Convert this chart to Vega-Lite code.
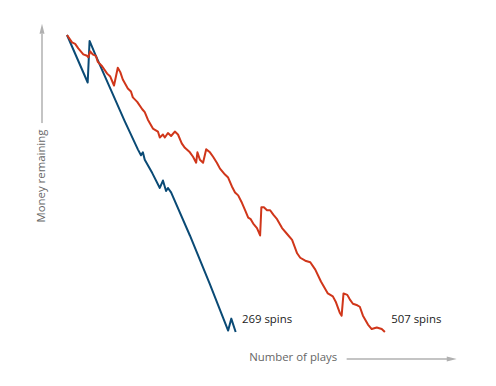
{
  "$schema": "https://vega.github.io/schema/vega-lite/v6.json",
  "width": 496,
  "height": 386,
  "padding": 0,
  "autosize": {"type": "fit", "contains": "padding"},
  "config": {"view": {"stroke": null}, "background": "white"},
  "datasets": {
    "runs": [
      {"series": "269", "spin": 0, "money": 200},
      {"series": "269", "spin": 33, "money": 168},
      {"series": "269", "spin": 36, "money": 196},
      {"series": "269", "spin": 45, "money": 187},
      {"series": "269", "spin": 70, "money": 163},
      {"series": "269", "spin": 92, "money": 142},
      {"series": "269", "spin": 113, "money": 123},
      {"series": "269", "spin": 118, "money": 119},
      {"series": "269", "spin": 121, "money": 121},
      {"series": "269", "spin": 124, "money": 116},
      {"series": "269", "spin": 136, "money": 107},
      {"series": "269", "spin": 148, "money": 97},
      {"series": "269", "spin": 153, "money": 102},
      {"series": "269", "spin": 158, "money": 95},
      {"series": "269", "spin": 161, "money": 97},
      {"series": "269", "spin": 166, "money": 94},
      {"series": "269", "spin": 196, "money": 65},
      {"series": "269", "spin": 228, "money": 32},
      {"series": "269", "spin": 257, "money": 1},
      {"series": "269", "spin": 262, "money": 9},
      {"series": "269", "spin": 269, "money": 0},
      {"series": "507", "spin": 0, "money": 200},
      {"series": "507", "spin": 8, "money": 195},
      {"series": "507", "spin": 13, "money": 194},
      {"series": "507", "spin": 18, "money": 191},
      {"series": "507", "spin": 26, "money": 187},
      {"series": "507", "spin": 32, "money": 186},
      {"series": "507", "spin": 34, "money": 185},
      {"series": "507", "spin": 37, "money": 189},
      {"series": "507", "spin": 41, "money": 187},
      {"series": "507", "spin": 46, "money": 186},
      {"series": "507", "spin": 49, "money": 182},
      {"series": "507", "spin": 56, "money": 179},
      {"series": "507", "spin": 64, "money": 174},
      {"series": "507", "spin": 69, "money": 172},
      {"series": "507", "spin": 75, "money": 166},
      {"series": "507", "spin": 81, "money": 178},
      {"series": "507", "spin": 85, "money": 175},
      {"series": "507", "spin": 89, "money": 170},
      {"series": "507", "spin": 97, "money": 164},
      {"series": "507", "spin": 102, "money": 162},
      {"series": "507", "spin": 105, "money": 158},
      {"series": "507", "spin": 112, "money": 155},
      {"series": "507", "spin": 120, "money": 150},
      {"series": "507", "spin": 124, "money": 148},
      {"series": "507", "spin": 129, "money": 143},
      {"series": "507", "spin": 137, "money": 137},
      {"series": "507", "spin": 145, "money": 135},
      {"series": "507", "spin": 148, "money": 131},
      {"series": "507", "spin": 153, "money": 133},
      {"series": "507", "spin": 156, "money": 131},
      {"series": "507", "spin": 161, "money": 134},
      {"series": "507", "spin": 166, "money": 132},
      {"series": "507", "spin": 172, "money": 135},
      {"series": "507", "spin": 177, "money": 133},
      {"series": "507", "spin": 183, "money": 127},
      {"series": "507", "spin": 188, "money": 124},
      {"series": "507", "spin": 196, "money": 121},
      {"series": "507", "spin": 201, "money": 118},
      {"series": "507", "spin": 206, "money": 114},
      {"series": "507", "spin": 208, "money": 121},
      {"series": "507", "spin": 212, "money": 116},
      {"series": "507", "spin": 217, "money": 114},
      {"series": "507", "spin": 222, "money": 123},
      {"series": "507", "spin": 228, "money": 121},
      {"series": "507", "spin": 233, "money": 118},
      {"series": "507", "spin": 239, "money": 114},
      {"series": "507", "spin": 244, "money": 110},
      {"series": "507", "spin": 252, "money": 106},
      {"series": "507", "spin": 257, "money": 104},
      {"series": "507", "spin": 263, "money": 98},
      {"series": "507", "spin": 268, "money": 94},
      {"series": "507", "spin": 273, "money": 92},
      {"series": "507", "spin": 279, "money": 87},
      {"series": "507", "spin": 284, "money": 82},
      {"series": "507", "spin": 289, "money": 77},
      {"series": "507", "spin": 293, "money": 76},
      {"series": "507", "spin": 297, "money": 73},
      {"series": "507", "spin": 303, "money": 70},
      {"series": "507", "spin": 308, "money": 65},
      {"series": "507", "spin": 310, "money": 84},
      {"series": "507", "spin": 314, "money": 84},
      {"series": "507", "spin": 319, "money": 82},
      {"series": "507", "spin": 324, "money": 82},
      {"series": "507", "spin": 329, "money": 79},
      {"series": "507", "spin": 335, "money": 76},
      {"series": "507", "spin": 343, "money": 70},
      {"series": "507", "spin": 351, "money": 66},
      {"series": "507", "spin": 359, "money": 62},
      {"series": "507", "spin": 367, "money": 53},
      {"series": "507", "spin": 372, "money": 50},
      {"series": "507", "spin": 380, "money": 48},
      {"series": "507", "spin": 388, "money": 47},
      {"series": "507", "spin": 396, "money": 42},
      {"series": "507", "spin": 405, "money": 34},
      {"series": "507", "spin": 416, "money": 26},
      {"series": "507", "spin": 424, "money": 24},
      {"series": "507", "spin": 429, "money": 20},
      {"series": "507", "spin": 435, "money": 13},
      {"series": "507", "spin": 438, "money": 11},
      {"series": "507", "spin": 441, "money": 26},
      {"series": "507", "spin": 447, "money": 25},
      {"series": "507", "spin": 451, "money": 22},
      {"series": "507", "spin": 456, "money": 19},
      {"series": "507", "spin": 463, "money": 18},
      {"series": "507", "spin": 467, "money": 17},
      {"series": "507", "spin": 472, "money": 11},
      {"series": "507", "spin": 480, "money": 5},
      {"series": "507", "spin": 486, "money": 2},
      {"series": "507", "spin": 494, "money": 3},
      {"series": "507", "spin": 502, "money": 2},
      {"series": "507", "spin": 507, "money": 0}
    ],
    "endLabels": [
      {"label": "269 spins", "spin": 279, "money": 8},
      {"label": "507 spins", "spin": 517, "money": 8}
    ],
    "arrowLines": [
      {"spin": -39.9, "money": 140.7, "spin2": -39.9, "money2": 200.7},
      {"spin": 446, "money": -18.2, "spin2": 606, "money2": -18.2}
    ],
    "arrowHeads": [
      {"dir": "up", "spin": -39.9, "money": 204.2},
      {"dir": "right", "spin": 613.6, "money": -18.2}
    ],
    "axisTitles": [
      {"title": "Money remaining", "spin": -39.9, "money": 105, "angle": 270},
      {"title": "Number of plays", "spin": 360.7, "money": -17.3, "angle": 0}
    ]
  },
  "layer": [
    {
      "data": {"name": "arrowLines"},
      "mark": {"type": "rule", "color": "#c4c4c4", "strokeWidth": 2},
      "encoding": {
        "x": {"field": "spin", "type": "quantitative", "axis": null, "scale": {"domain": [-106.86, 684.2], "nice": false, "zero": false}},
        "y": {"field": "money", "type": "quantitative", "axis": null, "scale": {"domain": [-36.36, 223.57], "nice": false, "zero": false}},
        "x2": {"field": "spin2"},
        "y2": {"field": "money2"}
      }
    },
    {
      "data": {"name": "arrowHeads"},
      "mark": {"type": "point", "filled": true, "opacity": 1, "color": "#b0b0b0", "size": 100},
      "encoding": {
        "x": {"field": "spin", "type": "quantitative", "axis": null},
        "y": {"field": "money", "type": "quantitative", "axis": null},
        "shape": {"field": "dir", "type": "nominal", "legend": null, "scale": {"domain": ["up", "right"], "range": ["M-0.5,1L0,-1L0.5,1Z", "M-1,-0.5L1,0L-1,0.5Z"]}}
      }
    },
    {
      "data": {"name": "axisTitles"},
      "mark": {"type": "text", "font": "Open Sans", "fontSize": 11.4, "color": "#666666", "align": "center", "baseline": "middle"},
      "encoding": {
        "x": {"field": "spin", "type": "quantitative", "axis": null},
        "y": {"field": "money", "type": "quantitative", "axis": null},
        "text": {"field": "title"},
        "angle": {"field": "angle", "type": "quantitative", "scale": null}
      }
    },
    {
      "data": {"name": "runs"},
      "mark": {"type": "line", "strokeWidth": 2, "strokeJoin": "round"},
      "encoding": {
        "x": {"field": "spin", "type": "quantitative", "axis": null},
        "y": {"field": "money", "type": "quantitative", "axis": null},
        "color": {"field": "series", "type": "nominal", "legend": null, "scale": {"domain": ["269", "507"], "range": ["#0a4a75", "#d0361a"]}},
        "order": {"field": "spin", "type": "quantitative"}
      }
    },
    {
      "data": {"name": "endLabels"},
      "mark": {"type": "text", "font": "Open Sans", "fontSize": 11.4, "color": "#222222", "align": "left", "baseline": "middle"},
      "encoding": {
        "x": {"field": "spin", "type": "quantitative", "axis": null},
        "y": {"field": "money", "type": "quantitative", "axis": null},
        "text": {"field": "label"}
      }
    }
  ]
}
